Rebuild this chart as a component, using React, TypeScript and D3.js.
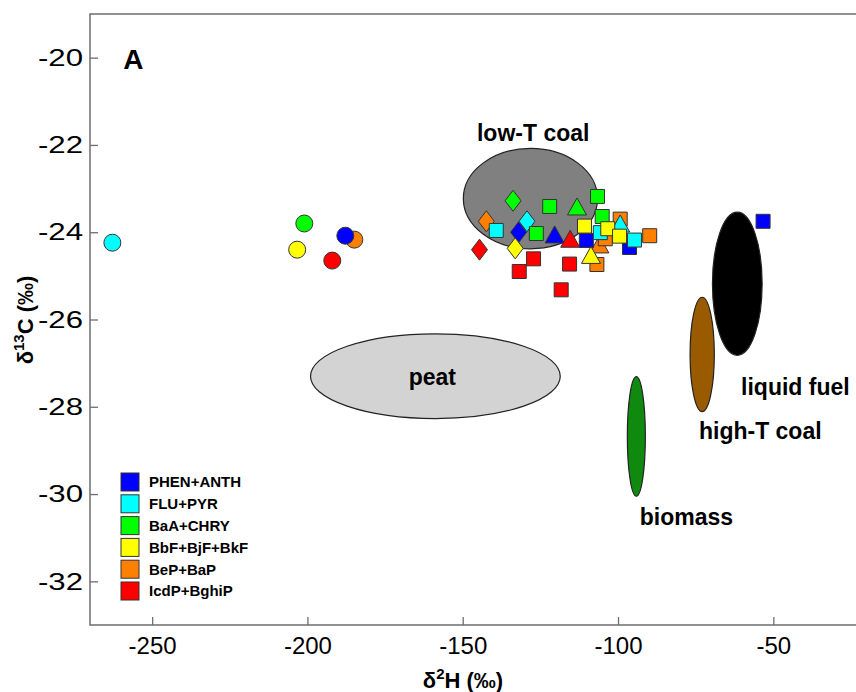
import React, { useEffect, useRef } from 'react';
import * as d3 from 'd3';

type Mark = 'circle' | 'square' | 'diamond' | 'triangle';
type Pt = [number, number, Mark];

// groups (legend order)
const groupNames = ['PHEN+ANTH', 'FLU+PYR', 'BaA+CHRY', 'BbF+BjF+BkF', 'BeP+BaP', 'IcdP+BghiP'];
const groupColors = ['#0000ff', '#00ffff', '#00ff00', '#ffff00', '#ff8000', '#ff0000'];

// [d2H, d13C, marker]
const phenAnth: Pt[] = [
  [-187.8, -24.08, 'circle'], [-132.0, -24.0, 'diamond'], [-120.4, -24.05, 'triangle'],
  [-110.2, -24.19, 'square'], [-96.3, -24.35, 'square'], [-53.3, -23.75, 'square'],
];
const fluPyr: Pt[] = [
  [-262.8, -24.24, 'circle'], [-139.2, -23.96, 'square'], [-129.3, -23.75, 'diamond'],
  [-105.7, -24.01, 'square'], [-99.3, -23.8, 'triangle'], [-94.7, -24.18, 'square'],
];
const baaChry: Pt[] = [
  [-201.0, -23.8, 'circle'], [-133.8, -23.28, 'diamond'], [-122.0, -23.41, 'square'],
  [-126.3, -24.03, 'square'], [-113.2, -23.41, 'triangle'], [-106.6, -23.18, 'square'],
  [-105.1, -23.64, 'square'],
];
const bbfBjfBkf: Pt[] = [
  [-203.3, -24.4, 'circle'], [-133.1, -24.37, 'diamond'], [-110.8, -23.86, 'square'],
  [-103.3, -23.92, 'square'], [-99.5, -24.09, 'square'], [-108.7, -24.52, 'triangle'],
];
const bepBap: Pt[] = [
  [-184.9, -24.17, 'circle'], [-142.4, -23.75, 'diamond'], [-106.0, -24.28, 'triangle'],
  [-104.1, -24.15, 'square'], [-106.8, -24.74, 'square'], [-99.3, -23.7, 'square'],
  [-89.8, -24.08, 'square'],
];
const icdpBghip: Pt[] = [
  [-192.0, -24.65, 'circle'], [-144.6, -24.4, 'diamond'], [-115.4, -24.15, 'triangle'],
  [-127.2, -24.61, 'square'], [-131.8, -24.9, 'square'], [-118.3, -25.32, 'square'],
  [-115.6, -24.73, 'square'],
];
const groupData = [phenAnth, fluPyr, baaChry, bbfBjfBkf, bepBap, icdpBghip];
const drawOrder = [4, 0, 1, 2, 3, 5];

// source end-member ellipses
const sourceNames = ['low-T coal', 'peat', 'biomass', 'high-T coal', 'liquid fuel'];
const sourceCenterH = [-128.2, -158.8, -94.1, -72.9, -61.6];
const sourceCenterC = [-23.23, -27.3, -28.68, -26.8, -25.18];
const sourceSpreadH = [21.6, 40.2, 2.9, 3.9, 8.0];
const sourceSpreadC = [1.15, 0.97, 1.37, 1.31, 1.64];
const sourceFills = ['#808080', '#d3d3d3', '#0f8a0f', '#9a5a00', '#000000'];
// label anchors in data units
const sourceLabelH = [-127.3, -159.8, -78.0, -54.2, -42.9];
const sourceLabelC = [-21.72, -27.31, -30.52, -28.55, -27.54];

const xTicks = [-250, -200, -150, -100, -50];
const yTicks = [-20, -22, -24, -26, -28, -30, -32];

const W = 856;
const H = 692;
const margin = { top: 14, left: 90, bottom: 67 };
const font = '"Liberation Sans", Arial, sans-serif';

const markPath = (m: Mark): string => {
  if (m === 'square') return 'M-7,-7H7V7H-7Z';
  if (m === 'diamond') return 'M0,-10.5L8,0L0,10.5L-8,0Z';
  if (m === 'triangle') return 'M0,-8.5L9.5,8.5L-9.5,8.5Z';
  const r = 8.5;
  return `M${r},0A${r},${r} 0 1,1 ${-r},0A${r},${r} 0 1,1 ${r},0Z`;
};

export default function App() {
  const xAxisRef = useRef<SVGGElement>(null);
  const yAxisRef = useRef<SVGGElement>(null);

  const x = d3.scaleLinear().domain([-270, -20]).range([margin.left, margin.left + 250 * 3.106]);
  const y = d3.scaleLinear().domain([-33, -19]).range([H - margin.bottom, margin.top]);

  useEffect(() => {
    const fmt = (d: d3.NumberValue) => String(d);

    const xa = d3.select(xAxisRef.current!);
    xa.selectAll('*').remove();
    xa.call(d3.axisBottom(x).tickValues(xTicks).tickFormat(fmt).tickSizeInner(-8).tickSizeOuter(0).tickPadding(12));
    xa.select('.domain').remove();
    xa.selectAll('line').attr('stroke', '#6e6e6e').attr('stroke-width', 1.3);
    xa.selectAll('text')
      .attr('font-family', font)
      .attr('font-size', 24)
      .attr('fill', '#000');

    const ya = d3.select(yAxisRef.current!);
    ya.selectAll('*').remove();
    ya.call(d3.axisLeft(y).tickValues(yTicks).tickFormat(fmt).tickSizeInner(-8).tickSizeOuter(0).tickPadding(7));
    ya.select('.domain').remove();
    ya.selectAll('line').attr('stroke', '#6e6e6e').attr('stroke-width', 1.3);
    ya.selectAll<SVGTextElement, number>('text')
      .attr('font-family', font)
      .attr('font-size', 24)
      .attr('fill', '#000')
      .attr('x', null)
      .attr('transform', 'translate(-7,0) scale(1.3,1)');
  }, []);

  const bottom = H - margin.bottom;

  return (
    <svg width={W} height={H} style={{ position: 'absolute', left: 0, top: 0, background: '#fff' }}>
      <rect x={0} y={0} width={W} height={H} fill="#fff" />
      {/* ellipses */}
      {sourceNames.map((n, i) => (
        <ellipse
          key={n}
          cx={x(sourceCenterH[i])}
          cy={y(sourceCenterC[i])}
          rx={x(sourceCenterH[i] + sourceSpreadH[i]) - x(sourceCenterH[i])}
          ry={y(sourceCenterC[i]) - y(sourceCenterC[i] + sourceSpreadC[i])}
          fill={sourceFills[i]}
          stroke="#222"
          strokeWidth={1.2}
        />
      ))}
      {sourceNames.map((n, i) => (
        <text
          key={'l' + n}
          x={x(sourceLabelH[i])}
          y={y(sourceLabelC[i])}
          dy="0.36em"
          textAnchor="middle"
          fontFamily={font}
          fontWeight="bold"
          fontSize={23}
          fill="#000"
        >
          {n}
        </text>
      ))}
      {/* points */}
      {drawOrder.map((g) =>
        groupData[g].map((p, j) => (
          <path
            key={`${g}-${j}`}
            d={markPath(p[2])}
            transform={`translate(${x(p[0])},${y(p[1])})`}
            fill={groupColors[g]}
            stroke="#333"
            strokeWidth={1}
          />
        ))
      )}
      {/* frame */}
      <path
        d={`M${W},${margin.top}H${margin.left}V${bottom}H${W}`}
        fill="none"
        stroke="#6e6e6e"
        strokeWidth={1.5}
      />
      <g ref={xAxisRef} transform={`translate(0,${bottom})`} />
      <g ref={yAxisRef} transform={`translate(${margin.left},0)`} />
      <text x={x(-256)} y={y(-20.02)} dy="0.36em" textAnchor="middle" fontFamily={font} fontWeight="bold" fontSize={28}>
        A
      </text>
      {/* legend */}
      {groupNames.map((n, i) => (
        <g key={n} transform={`translate(121,${482 + i * 21.8})`}>
          <rect x={0} y={-9} width={18} height={18} fill={groupColors[i]} stroke="#333" strokeWidth={1} />
          <text x={28} y={0} dy="0.36em" fontFamily={font} fontWeight="bold" fontSize={15} fill="#000">
            {n}
          </text>
        </g>
      ))}
      {/* axis titles */}
      <text x={463} y={688} textAnchor="middle" fontFamily={font} fontWeight="bold" fontSize={22} fill="#000">
        δ<tspan dy={-9} fontSize={15}>2</tspan>
        <tspan dy={9}>H (‰)</tspan>
      </text>
      <text
        transform="translate(33,320) rotate(-90)"
        textAnchor="middle"
        fontFamily={font}
        fontWeight="bold"
        fontSize={22}
        fill="#000"
      >
        δ<tspan dy={-9} fontSize={15}>13</tspan>
        <tspan dy={9}>C (‰)</tspan>
      </text>
    </svg>
  );
}
